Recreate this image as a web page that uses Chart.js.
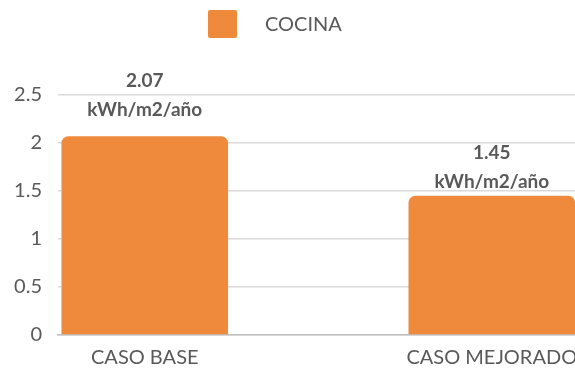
<!DOCTYPE html>
<html>
<head>
<meta charset="utf-8">
<script src="https://cdn.jsdelivr.net/npm/chart.js@4.4.1/dist/chart.umd.min.js"></script>
<style>
  html, body { margin: 0; padding: 0; background: #ffffff; overflow: hidden; }
  #wrap { position: relative; width: 575px; height: 369px; overflow: hidden; }
  #wrap canvas { position: absolute; left: 0; top: 0; }
</style>
</head>
<body>
<div id="wrap"><canvas id="chart" width="700" height="369"></canvas></div>
<script>
// Energy use for cooking, per case
const categories = ['CASO BASE', 'CASO MEJORADO'];
const seriesName = 'COCINA';
const consumo = [2.07, 1.45];
const unidad = 'kWh/m2/año';
const yTicks = [0, 0.5, 1, 1.5, 2, 2.5];

const ORANGE = '#EF8A3D';
const TEXT = '#595959';
const FONT = 'Lato, "Open Sans", sans-serif';

// Two-line value labels above each bar
const valueLabels = {
  id: 'valueLabels',
  afterDatasetsDraw(chart, args, opts) {
    const ctx = chart.ctx;
    const meta = chart.getDatasetMeta(0);
    ctx.save();
    ctx.fillStyle = TEXT;
    ctx.font = 'bold 19px ' + FONT;
    ctx.textAlign = 'center';
    ctx.textBaseline = 'middle';
    meta.data.forEach((bar, i) => {
      const lift = opts.lift[i];
      ctx.fillText(consumo[i].toFixed(2), bar.x, bar.y - lift - opts.lineGap);
      ctx.fillText(unidad, bar.x, bar.y - lift);
    });
    ctx.restore();
  }
};

// Legend entry drawn above the plot
const topLegend = {
  id: 'topLegend',
  afterDraw(chart, args, opts) {
    const ctx = chart.ctx;
    const ds = chart.data.datasets[0];
    ctx.save();
    ctx.fillStyle = ds.backgroundColor;
    ctx.beginPath();
    ctx.roundRect(opts.x, opts.y, opts.box, opts.box - 1, 2);
    ctx.fill();
    ctx.fillStyle = TEXT;
    ctx.font = '20px ' + FONT;
    ctx.textAlign = 'left';
    ctx.textBaseline = 'middle';
    ctx.fillText(ds.label, opts.x + opts.box + opts.gap, opts.y + opts.box / 2);
    ctx.restore();
  }
};

new Chart(document.getElementById('chart'), {
  type: 'bar',
  data: {
    datasets: [{
      label: seriesName,
      data: consumo.map((v, i) => ({ x: i, y: v })),
      backgroundColor: ORANGE,
      borderRadius: 7,
      borderSkipped: 'bottom',
      barPercentage: 0.48,
      categoryPercentage: 1
    }]
  },
  options: {
    responsive: false,
    animation: false,
    layout: { padding: { top: 95, left: 0, right: 0, bottom: 0 } },
    plugins: {
      legend: { display: false },
      tooltip: { enabled: false },
      valueLabels: { lift: [26, 14], lineGap: 29 },
      topLegend: { x: 208, y: 10, box: 29, gap: 28 }
    },
    scales: {
      x: {
        type: 'linear',
        offset: false,
        min: -0.25,
        max: 1.6,
        grid: { display: false, drawTicks: false },
        border: { display: true, color: '#BFBFBF', width: 1.5 },
        afterBuildTicks(scale) {
          scale.ticks = categories.map((_, i) => ({ value: i }));
        },
        afterFit(scale) { scale.height = 34; },
        ticks: {
          autoSkip: false,
          maxRotation: 0,
          padding: 11,
          color: TEXT,
          font: { family: FONT, size: 20 },
          callback: (v) => categories[v]
        }
      },
      y: {
        min: 0,
        max: 2.5,
        afterBuildTicks(scale) {
          scale.ticks = yTicks.map(v => ({ value: v }));
        },
        afterFit(scale) { scale.width = 58; },
        grid: { color: '#D9D9D9', lineWidth: 1.5, drawTicks: false },
        border: { display: false },
        ticks: {
          padding: 16,
          color: TEXT,
          font: { family: FONT, size: 20 },
          callback: (v) => String(v)
        }
      }
    }
  },
  plugins: [valueLabels, topLegend]
});
</script>
</body>
</html>
